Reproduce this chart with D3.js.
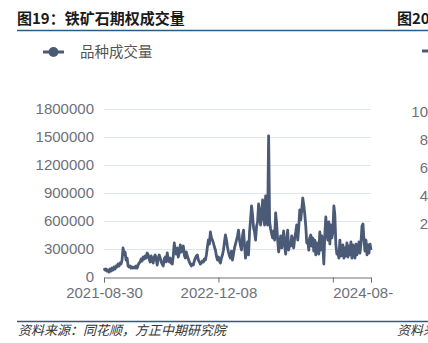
<!DOCTYPE html>
<html><head><meta charset="utf-8">
<script src="https://cdn.jsdelivr.net/npm/d3@7"></script>
<style>
html,body{margin:0;padding:0;background:#fff;}
svg{display:block;}
</style></head>
<body>
<svg id="c" width="428" height="343"></svg>
<script>
// ---- data ----
const seriesName = "品种成交量";
const volume = [
94000,73000,84000,62000,73000,51000,84000,62000,94000,73000,
105000,84000,116000,105000,137000,116000,148000,137000,180000,309000,
234000,266000,180000,201000,116000,105000,116000,94000,105000,94000,
105000,94000,116000,94000,126000,148000,159000,191000,169000,212000,
191000,223000,201000,255000,234000,191000,159000,223000,180000,148000,
212000,234000,191000,126000,201000,234000,201000,159000,137000,116000,
191000,212000,159000,255000,180000,159000,201000,148000,137000,223000,
362000,266000,244000,309000,212000,255000,341000,266000,298000,330000,
234000,201000,266000,223000,191000,159000,137000,116000,137000,126000,
169000,201000,223000,234000,180000,159000,137000,148000,169000,159000,
191000,180000,234000,319000,394000,351000,480000,416000,394000,362000,
319000,287000,223000,180000,212000,169000,148000,201000,234000,287000,
373000,448000,394000,319000,266000,223000,201000,276000,180000,244000,
309000,351000,394000,437000,501000,394000,330000,287000,437000,501000,
341000,201000,287000,373000,234000,480000,609000,759000,662000,523000,
480000,394000,544000,587000,780000,716000,555000,630000,823000,673000,
555000,866000,673000,555000,1510000,587000,512000,459000,416000,491000,
394000,684000,566000,394000,266000,351000,437000,309000,394000,491000,
330000,244000,394000,501000,287000,362000,330000,437000,362000,309000,
416000,480000,555000,394000,523000,716000,609000,716000,844000,769000,
673000,544000,362000,394000,287000,416000,448000,330000,416000,276000,
394000,234000,362000,309000,244000,480000,287000,437000,341000,137000,
448000,641000,480000,394000,587000,351000,555000,416000,480000,759000,
662000,341000,244000,266000,201000,394000,223000,234000,341000,201000,
309000,223000,362000,212000,330000,234000,373000,201000,341000,287000,
201000,351000,234000,309000,373000,255000,362000,544000,566000,394000,
276000,394000,234000,341000,255000,351000,287000
];
const tickIndex = [0, 114, 228, volume.length - 1];
const tickLabels = ["2021-08-30", "2022-12-08", "", "2024-08-30"];
const yTicks = [0, 300000, 600000, 900000, 1200000, 1500000, 1800000];
const rightTicks = ["10", "8", "6", "4", "2"];

// ---- drawing ----
const svg = d3.select("#c");
const cjk = "'Noto Sans CJK SC','Noto Sans',sans-serif";
const latin = "'Liberation Sans',Arial,sans-serif";
const lineColor = "#4b5a77";
const ruleColor = "#2c5b80";
const axisText = "#6e7079";

// titles
svg.append("text").attr("x", 17).attr("y", 24)
  .attr("font-family", cjk).attr("font-size", 15).attr("font-weight", 700)
  .attr("fill", "#1a1a1a").text("图19：铁矿石期权成交量");
svg.append("text").attr("x", 397).attr("y", 24)
  .attr("font-family", cjk).attr("font-size", 15).attr("font-weight", 700)
  .attr("fill", "#1a1a1a").text("图20");
svg.append("line").attr("x1", 17).attr("x2", 428).attr("y1", 30.5).attr("y2", 30.5)
  .attr("stroke", ruleColor).attr("stroke-width", 1.3);
svg.append("line").attr("x1", 17).attr("x2", 428).attr("y1", 321.5).attr("y2", 321.5)
  .attr("stroke", ruleColor).attr("stroke-width", 1.3);
svg.append("text").attr("x", 18).attr("y", 335)
  .attr("font-family", cjk).attr("font-size", 13).attr("font-style", "italic")
  .attr("fill", "#333").text("资料来源：同花顺，方正中期研究院");
svg.append("text").attr("x", 397).attr("y", 335)
  .attr("font-family", cjk).attr("font-size", 13).attr("font-style", "italic")
  .attr("fill", "#333").text("资料来源");

// legend
const lg = svg.append("g");
lg.append("line").attr("x1", 43).attr("x2", 64).attr("y1", 52).attr("y2", 52)
  .attr("stroke", lineColor).attr("stroke-width", 3);
lg.append("circle").attr("cx", 53.5).attr("cy", 52).attr("r", 5).attr("fill", lineColor);
lg.append("text").attr("x", 80).attr("y", 57)
  .attr("font-family", cjk).attr("font-size", 14.5).attr("fill", "#555").text(seriesName);
svg.append("line").attr("x1", 422).attr("x2", 430).attr("y1", 51).attr("y2", 51)
  .attr("stroke", lineColor).attr("stroke-width", 3);

// left chart
const defs = svg.append("defs");
defs.append("clipPath").attr("id", "leftclip").append("rect")
  .attr("x", 0).attr("y", 0).attr("width", 394).attr("height", 343);
const g = svg.append("g").attr("clip-path", "url(#leftclip)");

const x = d3.scaleLinear().domain([0, volume.length - 1]).range([104, 371]);
const y = d3.scaleLinear().domain([0, 1800000]).range([276.8, 108.8]);

// grid
g.append("g").selectAll("line").data(yTicks.filter(d => d > 0)).join("line")
  .attr("x1", 104).attr("x2", 371)
  .attr("y1", d => Math.round(y(d)) + 0.5).attr("y2", d => Math.round(y(d)) + 0.5)
  .attr("stroke", "#e0e6f1").attr("stroke-width", 1);

// y labels
g.append("g").selectAll("text").data(yTicks).join("text")
  .attr("x", 94).attr("y", d => y(d)).attr("dy", "0.36em")
  .attr("text-anchor", "end").attr("font-family", latin).attr("font-size", 15)
  .attr("fill", axisText).text(d => d3.format("d")(d));

// line
g.append("path").datum(volume)
  .attr("fill", "none").attr("stroke", lineColor).attr("stroke-width", 2.8)
  .attr("stroke-linejoin", "round")
  .attr("d", d3.line().x((d, i) => x(i)).y(d => y(d)));

// x axis
const xa = g.append("g").attr("transform", `translate(0,${Math.round(y(0)) + 0.5})`)
  .call(d3.axisBottom(x).tickValues(tickIndex).tickFormat((d, i) => tickLabels[i])
    .tickSizeOuter(0).tickSize(5).tickPadding(5));
xa.select(".domain").attr("stroke", axisText);
xa.selectAll(".tick line").attr("stroke", axisText);
xa.selectAll(".tick text").attr("font-family", latin).attr("font-size", 15)
  .attr("fill", axisText);

// right chart partial y labels
svg.append("g").selectAll("text").data(rightTicks).join("text")
  .attr("x", 428).attr("y", (d, i) => 112 + i * 28).attr("dy", "0.36em")
  .attr("text-anchor", "end").attr("font-family", latin).attr("font-size", 15)
  .attr("fill", axisText).text(d => d);
</script>
</body></html>
